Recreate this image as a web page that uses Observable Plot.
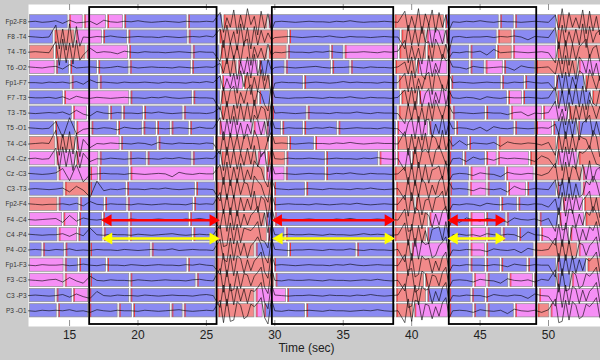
<!DOCTYPE html>
<html><head><meta charset="utf-8">
<script src="https://cdn.jsdelivr.net/npm/d3@7"></script>
<script src="https://cdn.jsdelivr.net/npm/@observablehq/plot@0.6"></script>
<style>
html,body{margin:0;padding:0;background:#cbcbcb;}
#chart{width:600px;height:360px;}
</style></head><body><div id="chart"></div>
<script>
// Channel names (top to bottom)
const channels = ["Fp2-F8","F8 -T4","T4 -T6","T6 -O2","Fp1-F7","F7 -T3","T3 -T5","T5 -O1","T4 -C4","C4 -Cz",
                  "Cz -C3","C3 -T3","Fp2-F4","F4 -C4","C4 -P4","P4 -O2","Fp1-F3","F3 -C3","C3 -P3","P3 -O1"];

// Segments per channel: class letter + end time (s); each starts where the previous ends (first at 12 s)
// B = blue, R = salmon, M = magenta
const segments = [
  "B14.9 M16.0 M17.7 M18.95 B23.6 B26.2 R29.5 B38.7 R42.4 B46.4 B47.5 B50.6 R54",
  "B13.85 R15.4 M17.4 B19.25 B23.65 B25.9 R31.0 B39.2 R41.05 M42.45 B46.25 R47.35 B50.6 R54",
  "R13.9 R16.2 M19.3 B23.95 B26.0 R29.5 R30.9 B34.05 B35.05 M39.05 R41.1 R42.65 B44.25 B46.2 R47.35 M50.6 R54",
  "M13.95 B15.0 B17.05 B19.35 B23.9 B26.05 R27.25 M28.8 B30.75 B34.15 B35.5 B38.75 R40.35 M42.65 B44.25 B45.35 M46.7 B49.05 R52.15 M54",
  "B15.1 B17.15 B26.1 M27.7 R29.7 B32.1 B39.0 R42.85 B46.55 B48.25 B50.5 B52.65 R54",
  "B14.55 M19.4 B24.0 B26.05 R28.8 B29.7 B39.2 R40.5 M42.7 B47.0 M48.1 B50.6 B53.15 R54",
  "B15.2 M16.3 B17.9 B18.85 B20.4 B23.3 B26.05 R29.75 B32.35 B39.0 R42.95 B45.4 B47.2 M49.55 M51.45 R54",
  "B13.9 B15.45 M16.55 B18.5 B20.35 B21.35 B22.4 B23.75 B25.9 M28.4 M29.35 B30.5 B32.1 B34.6 B38.9 M41.25 B43.2 B47.5 B49.05 M50.3 B52.1 B54",
  "R14.0 R15.45 M18.7 B21.45 B25.6 R29.6 R31.0 B32.9 M38.9 R42.75 B44.15 B46.3 R50.6 R54",
  "M14.0 M15.45 M17.15 B19.35 B20.65 B23.95 B26.05 R28.7 M29.4 R30.8 B33.7 B37.6 M38.9 M40.0 R42.7 B43.8 B45.4 M46.25 M48.6 R50.6 M52.15 R54",
  "B14.15 M16.45 M17.1 B19.4 M25.6 R29.3 M30.75 B33.7 B38.7 R42.7 B44.25 M45.5 B46.85 M48.95 R52.45 M54",
  "B14.6 R16.45 B19.15 B24.2 B25.7 R29.9 B32.25 B38.8 R42.75 B44.2 M45.5 B47.0 M48.4 B50.6 B52.45 M54",
  "R14.15 B15.7 B17.55 B19.2 B24.05 B25.7 R29.9 B38.8 R40.25 R42.7 B46.5 B47.75 B51.0 M52.55 R54",
  "M14.5 M15.65 B17.4 B19.35 B23.75 B25.7 R29.3 B29.95 B38.7 R41.25 M42.7 B44.25 M45.4 B46.9 B49.3 B50.75 M52.65 R54",
  "B14.15 M15.6 B17.45 B19.35 B24.0 B25.7 R29.45 B30.75 B38.7 R41.1 B44.25 M45.5 B46.6 B47.8 B49.4 M51.55 M54",
  "B13.0 B14.65 B16.45 B20.95 B25.7 R28.55 B31.0 B35.95 B38.8 R39.95 M42.7 B44.25 M45.4 B48.95 R52.15 M54",
  "M14.6 B15.65 B17.7 B23.6 B25.7 R29.9 B38.8 R42.7 B44.25 B45.4 B46.5 B48.45 B50.6 B52.8 R54",
  "M14.6 M16.45 B19.4 B24.25 B25.7 R30.0 B38.8 R40.95 R42.7 B44.5 M45.5 B47.1 M48.9 B50.6 B51.65 M54",
  "B14.0 B15.2 M16.4 B19.4 B25.7 R28.55 M30.85 B38.8 R41.1 B42.7 B44.35 B45.4 B49.25 M54",
  "B14.1 B16.4 B18.55 B19.6 B22.4 B23.3 B25.8 R28.55 M29.15 B32.25 B38.8 R40.15 M42.7 B44.5 B45.5 B47.5 M49.15 R50.1 M54"
];

// EEG traces from 12 s: plain chunks = one sample per 0.5 s, "*" chunks = one sample per 0.25 s.
// Letter offset from "m" gives the deflection (small for k..o, large further out).
const traces = [
  "mlnm kpjo nlqjmnlmkmnmlmnlmmlm *dwhsbxfuaqgyctev mlmnmlmmnlmkmnmmlmn *cvgtaxeqbwdsfu mnlmkmnlmmnmlmn *fuawdshtbxcvgyeq",
  "lmnm *bxeyawcv mnlmkmnmlmmnlmnmlmkm *ewbtgyavdxcufshq nmlmnmlmkmnlmmnmlmm *xbuevcsawdgtfy mlnmmlnlmkmqlmn *dxbvgteuawcshfyb",
  "mlmn *cyawdxbu qhnlmpkmnlmmnmlmnlmm *vbxdtfwcaygshueq mnlmmnlmkmnmmlmnlmk *bwfuhxdcvagtes mnlmkqinmlmnmln *wcxbyeugdashfvtb",
  "lmnl kpin mlmnmkmlnmlmmnlmnmlm *hsdvbxgtcwaufyeq mlmnmlkmnmmlmnlmmnl *gtcwduxbvhsafe lmpkmnmlmqjmnml *tdwbvfxcgsauhyeb",
  "mmnl mlnk pimlmnlmmlmnlmmnlmkm *fuhsdwbrcxgvatey nlmmnmlmnmkmlmmnlmm *dvbwhtfcxagsue mlmnmlmmnlmkmnm *uewcxgsbdvahtfyb",
  "lmml nkpj mnlmnmlmmnlmkmnmlmmn *xcvebwgsdaufhtyb lmnmmlmnlmmkmnlmmnl *eucxbvhdwgsatf mnlmpkmnlmmlmnm *cwfydtavbxgsuehd",
  "mnml mkpi oqjmnlmmnlmkmnmlmmnl *gtbwexducvasfhyb mlmnmlmmnlmmkmnlmmn *wdtbvgxcuahsef mlmnmlmmplkqmnl *buhxcwetdvagsfyb",
  "lmnm fvcs omnlmpkmnlmmnmlmnkmm *cxdvbugwhsaetfyc mnlmmnlmkmnmlmmnlmn *ugcwbxedvhsatf nlmpkqjmnlmnmlm *hsbwdvcxgeauftyb",
  "nmlm *axdvbwcy hrmnlmmnlmpkmnlmmnlm *wbxctevfdsagyuhb mlmnmlmmnlmkmnmlmmn *bxdwfucvegsath qiplmnkqjmnlmpk *xcvbwdueghsafytb",
  "mlnm *cwbudxev gqmnlmnmlmmnlmkmnmlm *exbvdwgtcsauhfyb mnlmmlmnmlmmnlmkmnm *xcwbvfdgueahst mlqjnmpkmlmnqim *vdxbucwfgeahstyb",
  "lmnm kgtd unmlmmnlmnmlmqjmnlmm *dwbxfvcuhsaegtyb mlmnmlmmnlmkmnlmmnm *fwcxbudvhgesat nlmpkmnqjmnlmpk *cxwbvegtdsauhfyb",
  "mlmn mkqi ouepmnlmmnlmkmnmlmmn *xbwdvcsfguaehtyb lmnmmlmnlmmnlmkmnml *wbxducgvhseatf mlmpkmnlqimnlmn *dvcxbwgusehaftyb",
  "lmnm mlnk pimnlmmnlmnmlmmnkmlm *bvcwdxftgsauehyb nmlmmnlmnmlmkmnmlmm *dxbvcwhgufeast mnlmpkmnlmmnlmq *gwbxcvdsheaufytb",
  "mnml kqhp jmnlmmnlmnmlmmnlmkmn *vcxbwdugsheatfyb mlmnmlmmnlmkmnmlmmn *cxwbdvfhugseat mqjmpkmnqjmnlpk *xbwvcdugsehaftyb",
  "lmnm mkpj ofmnlmmnlmnmlkmnmlmm *dxwbvcufgheastyb mnlmmlmnlmmnmkmlmnm *bwcxduhvgfesat mlnmpkmnlmqimnq *wcxbvdfugsehatyb",
  "mlmn lmkn mnlmmnlmnmlmmknmlmmn *cvxbwdsfuheagtyb lmnmmlmnlmmkmnlmmnl *xcwbvdgfusheat mnlmmpkmnlqjmnl *bxcwdvufgsheatyb",
  "mnlm mlnm kmnlmmnlmnmlmmnlmkmn *vbxcwdfugsheatyb mlmnmlmmnlmkmnmlmmn *cwbxvdgfuhseat mnlmmnlmpkmnlmm *xbwcvdugsfheatyb",
  "lmnl kpin qhmnlmmnlmnmlmmnlkmn *bxcwvdufgsheatyb mnlmmlmnlmmnmlmkmnm *wcbxvdfughseat mlmpkmnqjmnlpkm *cxbwvdgusfheatyb",
  "mlmn mkpj oqhmnlmmnlmnmlmmnlkm *xcwbvdsfugheatyb lmnmmlmnlmmnlmkmnml *bxwcvdgfuhseat mnlmmpkmnlmqjmn *wbxcvdfugsheatyb",
  "mnlm lmkn mpkmnlmmnlmnmlkmnmlm *cxbwvdgusfheatyb mnlmmlmnlmmnmlmkmnm *xbwcdvfguhseat mlmpkmnlqjmnlpk *bxwcvdgusfheatyb"
];

const xTicks = [15, 20, 25, 30, 35, 40, 45, 50];
const boxStart = [16.47, 29.82, 42.75];
const boxEnd   = [25.78, 38.69, 49.14];
const redStart = [17.6, 30.05, 42.9];
const redEnd   = [25.7, 38.5, 46.6];
const yellowStart = [17.65, 30.1, 42.9];
const yellowEnd   = [25.7, 38.5, 46.6];
const redRow = 14.05, yellowRow = 15.25;

const segColor = {B: "#8a8af2", R: "#f28a8a", M: "#f58ff5"};

const segRows = segments.flatMap((s, i) => {
  let start = 12;
  return s.trim().split(/\s+/).map(tok => {
    const seg = {row: i + 1, c: tok[0], x1: start, x2: +tok.slice(1)};
    start = seg.x2;
    return seg;
  });
});
// decode a trace letter into a deflection in row units
function deflect(ch) {
  const o = ch.charCodeAt(0) - 109, a = Math.abs(o);
  return a <= 3 ? o * 0.035 : Math.sign(o) * (0.1 + (a - 3) * 0.085);
}
const traceRows = traces.flatMap((s, i) => {
  let t = 12;
  const out = [];
  for (const tok of s.trim().split(/\s+/)) {
    const fine = tok[0] === "*", step = fine ? 0.25 : 0.5;
    for (const ch of (fine ? tok.slice(1) : tok)) { out.push({row: i + 1, t, v: i + 1 + deflect(ch)}); t += step; }
  }
  return out;
});
const boxes = boxStart.map((a, i) => ({a, b: boxEnd[i]}));
const redA = redStart.map((a, i) => ({a, b: redEnd[i], y: redRow}));
const yelA = yellowStart.map((a, i) => ({a, b: yellowEnd[i], y: yellowRow}));

function arrowMarks(data, color) {
  return [
    Plot.link(data, {x1: "a", x2: "b", y1: "y", y2: "y", stroke: color, strokeWidth: 2.6}),
    Plot.dot(data, {x: "a", y: "y", symbol: "triangle", r: 4.4, fill: color, stroke: "none", rotate: -90, dx: 3}),
    Plot.dot(data, {x: "b", y: "y", symbol: "triangle", r: 4.4, fill: color, stroke: "none", rotate: 90, dx: -3})
  ];
}

const chart = Plot.plot({
  width: 600, height: 360,
  marginLeft: 28, marginRight: 0, marginTop: 4, marginBottom: 34,
  style: {background: "#cbcbcb", fontFamily: "'Liberation Sans', Arial, sans-serif", color: "#222"},
  x: {domain: [12, 53.8]},
  y: {domain: [0.5, 20.5], range: [13.7, 317.9]},
  marks: [
    Plot.frame({fill: "white", stroke: "none"}),
    Plot.ruleX(xTicks, {stroke: "#777", strokeWidth: 0.8, insetBottom: 316}),
    Plot.ruleX(xTicks, {stroke: "#777", strokeWidth: 0.8, insetTop: 316}),
    Plot.rect(segRows, {x1: "x1", x2: "x2", y1: d => d.row - 0.435, y2: d => d.row + 0.435,
      fill: d => segColor[d.c], stroke: "#8c8c8c", strokeWidth: 0.7, insetLeft: 1.5, insetRight: 0.5}),
    Plot.ruleX(segRows.filter(d => d.x1 > 12), {x: "x1", y1: d => d.row - 0.435, y2: d => d.row + 0.435,
      stroke: "#ee3333", strokeWidth: 1, dx: 2, strokeOpacity: 0.9}),
    Plot.line(traceRows, {x: "t", y: "v", z: "row", stroke: "#000", strokeWidth: 0.6, clip: true}),
    Plot.rect(boxes, {x1: "a", x2: "b", fill: "none", stroke: "#000", strokeWidth: 1.8, insetTop: 3, insetBottom: 2}),
    ...arrowMarks(redA, "#ff0000"),
    ...arrowMarks(yelA, "#ffff00"),
    Plot.axisY(d3.range(1, 21), {tickSize: 0, tickPadding: 2, fontSize: 6.5, tickFormat: i => channels[i - 1], fill: "#333", label: null}),
    Plot.axisX(xTicks, {tickSize: 0, tickPadding: 4, fontSize: 12, label: null}),
    Plot.text(["Time (sec)"], {frameAnchor: "bottom", dy: 25, dx: -8, fontSize: 12, fill: "#222"})
  ]
});
document.getElementById("chart").appendChild(chart);
</script></body></html>
